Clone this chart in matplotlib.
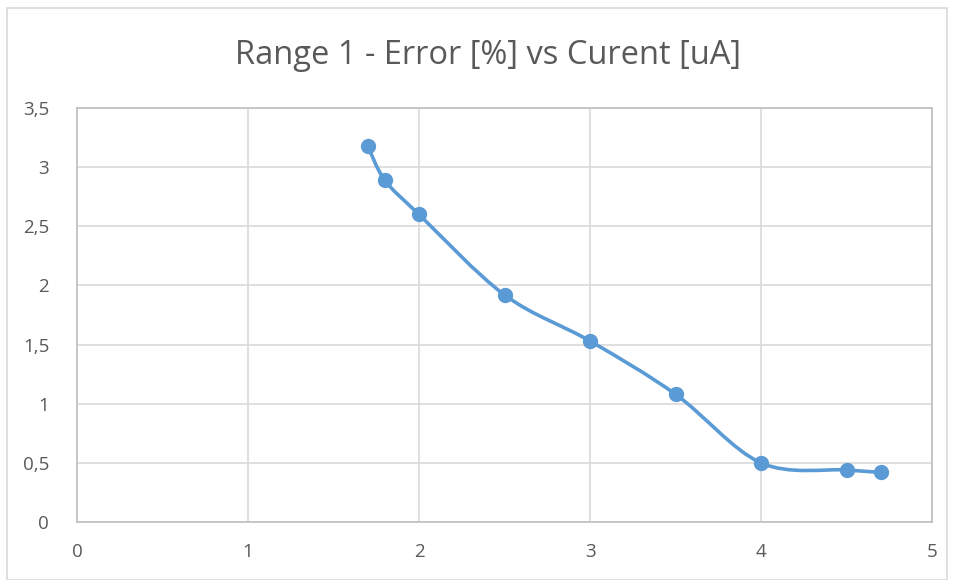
#Range 1 error vs current, Excel-style smoothed scatter

import numpy as np
import matplotlib.pyplot as plt
from matplotlib.path import Path
from matplotlib.patches import PathPatch, Rectangle

current = [1.7, 1.8, 2.0, 2.5, 3.0, 3.5, 4.0, 4.5, 4.7]
error = [3.18, 2.89, 2.60, 1.92, 1.53, 1.08, 0.50, 0.44, 0.42]
xticks = [0, 1, 2, 3, 4, 5]
yticks = [0, 0.5, 1, 1.5, 2, 2.5, 3, 3.5]
ytick_labels = ['0', '0,5', '1', '1,5', '2', '2,5', '3', '3,5']

blue = '#5B9BD5'
grey_text = '#595959'
grid_col = '#D9D9D9'

plt.rcParams['font.family'] = ['Open Sans', 'DejaVu Sans']

fig = plt.figure(figsize=(9.56, 5.8), dpi=100)
ax = fig.add_axes([77 / 956, 1 - 522 / 580, 855 / 956, 414 / 580])

# chart border
fig.patches.append(Rectangle((7 / 956, 0), 940 / 956, 1 - 8 / 580, transform=fig.transFigure,
                             fill=False, edgecolor='#D9D9D9', linewidth=1.2))

# smooth line through the points (cardinal spline as bezier segments)
pts = np.column_stack([current, error])
verts = [pts[0]]
codes = [Path.MOVETO]
n = len(pts)
for i in range(n - 1):
    p0 = pts[i - 1] if i > 0 else pts[i]
    p1 = pts[i]
    p2 = pts[i + 1]
    p3 = pts[i + 2] if i + 2 < n else pts[i + 1]
    c1 = p1 + (p2 - p0) / 6
    c2 = p2 - (p3 - p1) / 6
    verts += [c1, c2, p2]
    codes += [Path.CURVE4] * 3
ax.add_patch(PathPatch(Path(verts, codes), facecolor='none', edgecolor=blue, linewidth=2.6,
                       capstyle='round', zorder=3))
ax.plot(current, error, 'o', color=blue, markersize=10, zorder=4)

ax.set_xlim(0, 5)
ax.set_ylim(0, 3.5)
ax.set_xticks(xticks)
ax.set_yticks(yticks)
ax.set_yticklabels(ytick_labels)
ax.grid(True, color=grid_col, linewidth=1.2)
ax.set_axisbelow(True)
for s in ax.spines.values():
    s.set_color('#BFBFBF')
    s.set_linewidth(1.2)
ax.tick_params(length=0, labelsize=13.5, labelcolor=grey_text)
ax.tick_params(axis='y', pad=20)
ax.tick_params(axis='x', pad=15)

fig.text(488 / 956, 1 - 56 / 580, 'Range 1 - Error [%] vs Curent [uA]', ha='center', va='center',
         fontsize=23.5, color=grey_text)

fig.savefig('out.png', dpi=100)
